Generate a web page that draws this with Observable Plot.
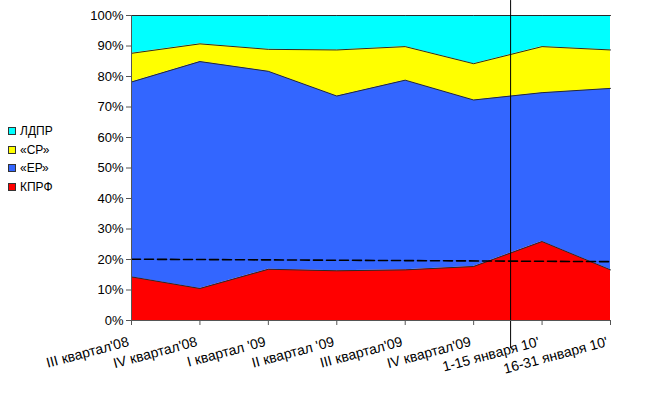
<!DOCTYPE html>
<html><head><meta charset="utf-8">
<script src="https://cdn.jsdelivr.net/npm/d3@7"></script>
<script src="https://cdn.jsdelivr.net/npm/@observablehq/plot@0.6"></script>
<style>
body{margin:0;background:#fff;}
#wrap{position:relative;width:649px;height:397px;font-family:"Liberation Sans",Arial,sans-serif;}
#legend{position:absolute;left:8px;top:122px;font-size:12px;color:#000;}
#legend .item{display:flex;align-items:center;height:18.5px;}
#legend .sw{width:6px;height:6px;border:1px solid #333;margin-right:4px;}
</style></head><body><div id="wrap"><div id="legend"></div></div>
<script>
const periods = ["III квартал'08","IV квартал'08","I квартал '09","II квартал '09","III квартал'09","IV квартал'09","1-15 января 10'","16-31 января 10'"];
const kprf = [14.3, 10.5, 16.8, 16.3, 16.6, 17.7, 25.9, 16.6];
const er   = [63.9, 74.4, 64.9, 57.3, 62.2, 54.6, 48.8, 59.5];
const sr   = [9.4, 5.8, 7.2, 15.1, 11.0, 11.9, 15.1, 12.6];
const ldpr = [12.4, 9.3, 11.1, 11.3, 10.2, 15.8, 10.2, 11.3];
const seriesNames = ["КПРФ", "«ЕР»", "«СР»", "ЛДПР"];
const seriesColors = ["#ff0000", "#3366ff", "#ffff00", "#00ffff"];
const trendX = [0, 7];
const trendY = [20.1, 19.3];
const markerX = [5.54];
const markerSpan = [-9.2, 104.9];
const yTicks = [0,10,20,30,40,50,60,70,80,90,100];

const seriesValues = [kprf, er, sr, ldpr];
const rows = [];
seriesNames.forEach((s, j) => periods.forEach((p, i) => rows.push({i, party: s, v: seriesValues[j][i]})));
const trend = trendX.map((x, k) => ({x, y: trendY[k]}));

const chart = Plot.plot({
  width: 649, height: 397,
  marginLeft: 131, marginRight: 39, marginTop: 15, marginBottom: 77,
  style: {fontFamily: '"Liberation Sans", Arial, sans-serif', fontSize: "13px", color: "#000", background: "#fff"},
  x: {type: "linear", domain: [0, 7]},
  y: {domain: [0, 100]},
  color: {domain: seriesNames, range: seriesColors},
  marks: [
    Plot.areaY(rows, Plot.stackY({x: "i", y: "v", z: "party", fill: "party", order: seriesNames, curve: "linear"})),
    Plot.lineY(rows, Plot.stackY2({x: "i", y: "v", z: "party", order: seriesNames, stroke: "#2a2a2a", strokeWidth: 1})),
    Plot.lineY(trend, {x: "x", y: "y", stroke: "#000", strokeWidth: 1.6, strokeDasharray: "9,4"}),
    Plot.ruleX(markerX, {x: d => d, y1: markerSpan[0], y2: markerSpan[1], stroke: "#000", strokeWidth: 1}),
    Plot.ruleX([0], {stroke: "#555"}),
    Plot.ruleY([0], {stroke: "#555"}),
    Plot.axisY({ticks: yTicks, tickFormat: d => d + "%", tickSize: 5, tickPadding: 3, stroke: "#555", fontSize: 13}),
    Plot.axisX({ticks: d3.range(8), tickFormat: null, text: null, tickSize: 5, stroke: "#555"}),
    Plot.axisX({ticks: d3.range(8), tickFormat: i => periods[i], tickSize: 0, tickRotate: -15, tickPadding: 21, dx: -3, fontSize: 14})
  ]
});
const wrap = document.getElementById("wrap");
wrap.insertBefore(chart, wrap.firstChild);

const legend = document.getElementById("legend");
[3, 2, 1, 0].forEach(j => {
  const it = document.createElement("div"); it.className = "item";
  const sw = document.createElement("span"); sw.className = "sw"; sw.style.background = seriesColors[j];
  const t = document.createElement("span"); t.textContent = seriesNames[j];
  it.appendChild(sw); it.appendChild(t); legend.appendChild(it);
});
</script></body></html>
